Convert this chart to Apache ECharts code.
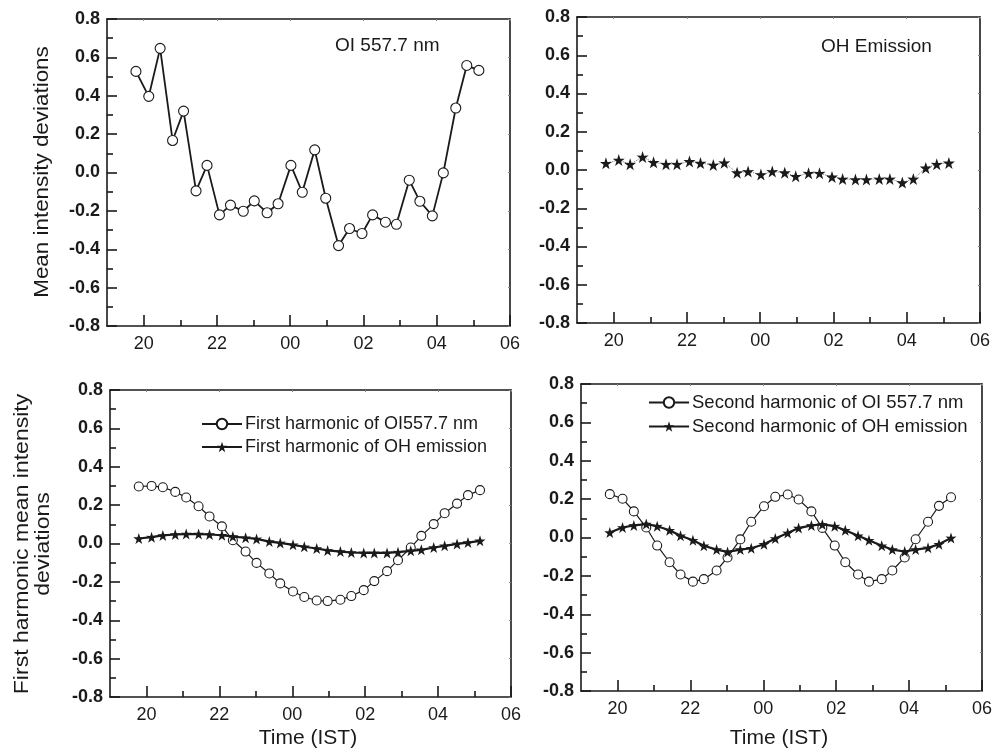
<!DOCTYPE html>
<html>
<head>
<meta charset="utf-8">
<script src="https://cdn.jsdelivr.net/npm/echarts@6/dist/echarts.min.js"></script>
<style>
html,body{margin:0;padding:0;background:#fff;}
#chart{width:995px;height:752px;}
</style>
</head>
<body>
<div id="chart"></div>
<script>
// Observation times (hours; values >= 24 are after midnight)
const times = [19.79,20.14,20.45,20.79,21.09,21.43,21.73,22.07,22.37,22.72,23.02,23.37,23.67,24.02,24.33,24.67,24.97,25.32,25.62,25.96,26.25,26.60,26.90,27.25,27.54,27.88,28.18,28.52,28.82,29.15];

const oiMean = [0.527,0.397,0.647,0.167,0.320,-0.096,0.037,-0.221,-0.170,-0.202,-0.148,-0.210,-0.163,0.037,-0.103,0.118,-0.134,-0.381,-0.292,-0.318,-0.221,-0.259,-0.270,-0.040,-0.150,-0.226,-0.002,0.336,0.558,0.532];
const ohMean = [0.035,0.052,0.030,0.068,0.040,0.030,0.030,0.045,0.036,0.026,0.038,-0.014,-0.008,-0.024,-0.008,-0.014,-0.033,-0.017,-0.017,-0.036,-0.047,-0.050,-0.050,-0.047,-0.047,-0.066,-0.047,0.011,0.030,0.037];

const oiFirst = [0.297,0.300,0.293,0.269,0.240,0.194,0.141,0.089,0.017,-0.042,-0.101,-0.156,-0.208,-0.250,-0.279,-0.297,-0.300,-0.293,-0.274,-0.243,-0.196,-0.144,-0.087,-0.021,0.040,0.101,0.158,0.208,0.252,0.278];
const ohFirst = [0.026,0.033,0.042,0.047,0.049,0.049,0.047,0.043,0.036,0.030,0.024,0.010,0.003,-0.007,-0.017,-0.026,-0.036,-0.042,-0.047,-0.049,-0.049,-0.049,-0.045,-0.038,-0.033,-0.021,-0.012,-0.002,0.005,0.014];

const oiSecond = [0.226,0.202,0.136,0.052,-0.042,-0.129,-0.193,-0.230,-0.217,-0.172,-0.104,-0.010,0.082,0.163,0.212,0.224,0.198,0.136,0.050,-0.042,-0.129,-0.193,-0.230,-0.217,-0.172,-0.104,-0.009,0.082,0.165,0.210];
const ohSecond = [0.026,0.052,0.063,0.070,0.059,0.038,0.009,-0.014,-0.043,-0.063,-0.075,-0.063,-0.056,-0.035,-0.005,0.024,0.049,0.063,0.068,0.059,0.038,0.009,-0.014,-0.043,-0.063,-0.073,-0.063,-0.054,-0.035,-0.002];

// Axis ticks
const xMajorTicks = [20,22,24,26,28,30];
const xMajorLabels = ['20','22','00','02','04','06'];
const xMinorTicks = [21,23,25,27,29];
const xRange = [19,30];
const yRange = [-0.8,0.8];
const yStep = 0.2;

const FONT = '"Liberation Sans", Arial, Helvetica, sans-serif';
const STAR = 'path://M50,0 L61.8,35.1 L97.6,34.5 L68.4,56.7 L79.4,90.5 L50,70 L20.6,90.5 L31.6,56.7 L2.4,34.5 L38.2,35.1 Z';
const INK = '#1a1a1a';

const grids = [
  {left:107, top:19, width:403, height:307},
  {left:577, top:17, width:403, height:306},
  {left:110, top:390, width:401, height:307},
  {left:581, top:384, width:401, height:307}
];

const xAxes = [], yAxes = [];
grids.forEach((g, i) => {
  xAxes.push({
    gridIndex:i, type:'value', min:xRange[0], max:xRange[1], position:'bottom',
    axisLine:{show:true, onZero:false, lineStyle:{color:INK, width:1.6}},
    axisTick:{show:true, inside:true, length:11, customValues:xMajorTicks, lineStyle:{color:INK, width:1.6}},
    axisLabel:{show:true, customValues:xMajorTicks, margin:9, fontFamily:FONT, fontSize:18, color:INK,
      formatter:(v)=>{ const k = xMajorTicks.indexOf(Math.round(v)); return k>=0 ? xMajorLabels[k] : ''; }},
    splitLine:{show:false}
  });
  xAxes.push({
    gridIndex:i, type:'value', min:xRange[0], max:xRange[1], position:'bottom',
    axisLine:{show:false, onZero:false},
    axisTick:{show:true, inside:true, length:6, customValues:xMinorTicks, lineStyle:{color:INK, width:1.6}},
    axisLabel:{show:false}, splitLine:{show:false}
  });
  xAxes.push({
    gridIndex:i, type:'value', min:xRange[0], max:xRange[1], position:'top',
    axisLine:{show:true, onZero:false, lineStyle:{color:INK, width:1.6}},
    axisTick:{show:true, inside:true, length:2, customValues:xMajorTicks, lineStyle:{color:'#888', width:1}},
    axisLabel:{show:false}, splitLine:{show:false}
  });
  yAxes.push({
    gridIndex:i, type:'value', min:yRange[0], max:yRange[1], interval:yStep, position:'left',
    axisLine:{show:true, onZero:false, lineStyle:{color:INK, width:1.6}},
    axisTick:{show:true, inside:true, length:10, lineStyle:{color:INK, width:1.6}},
    minorTick:{show:true, splitNumber:2, length:6, lineStyle:{color:INK, width:1.6}},
    axisLabel:{show:true, margin:7, fontFamily:FONT, fontWeight:'bold', fontSize:18, color:INK,
      formatter:(v)=>v.toFixed(1)},
    splitLine:{show:false}
  });
  yAxes.push({
    gridIndex:i, type:'value', min:yRange[0], max:yRange[1], interval:yStep, position:'right',
    axisLine:{show:true, onZero:false, lineStyle:{color:INK, width:1.6}},
    axisTick:{show:true, inside:true, length:2, lineStyle:{color:'#888', width:1}},
    axisLabel:{show:false}, splitLine:{show:false}
  });
});

function pairs(vals){ return vals.map((v,k)=>[times[k], v]); }

function circleSeries(name, vals, gi, size, lw){
  return {
    name:name, type:'line', xAxisIndex:gi*3, yAxisIndex:gi*2, data:pairs(vals),
    symbol:'circle', symbolSize:size, showSymbol:true, animation:false, z:3,
    itemStyle:{color:'#fff', borderColor:INK, borderWidth:1.1},
    lineStyle:{color:INK, width:lw}
  };
}
function starSeries(name, vals, gi, size, lw, ltype, lcolor){
  return {
    name:name, type:'line', xAxisIndex:gi*3, yAxisIndex:gi*2, data:pairs(vals),
    symbol:STAR, symbolSize:size, showSymbol:true, animation:false, z:4,
    itemStyle:{color:INK, borderWidth:0},
    lineStyle:{color:lcolor||INK, width:lw, type:ltype||'solid'}
  };
}

const series = [
  circleSeries('OI 557.7 nm', oiMean, 0, 10, 1.8),
  starSeries('OH Emission', ohMean, 1, 12, 1, 'dotted', '#777'),
  circleSeries('First harmonic of OI557.7 nm', oiFirst, 2, 9, 1.2),
  starSeries('First harmonic of OH emission', ohFirst, 2, 11, 2.2),
  circleSeries('Second harmonic of OI 557.7 nm', oiSecond, 3, 9, 1.2),
  starSeries('Second harmonic of OH emission', ohSecond, 3, 11, 2.2)
];

const legendCommon = {
  orient:'vertical', itemWidth:40, itemHeight:13, itemGap:5,
  textStyle:{fontFamily:FONT, fontSize:18, color:INK, padding:[0,0,0,-2]},
  selectedMode:false, inactiveColor:INK
};

const titleStyle = {font:'20px '+FONT, fill:INK, align:'center', verticalAlign:'middle'};

const option = {
  backgroundColor:'#fff',
  animation:false,
  grid:grids.map(g=>Object.assign({containLabel:false}, g)),
  xAxis:xAxes,
  yAxis:yAxes,
  legend:[
    Object.assign({}, legendCommon, {left:196, top:410, data:['First harmonic of OI557.7 nm','First harmonic of OH emission']}),
    Object.assign({}, legendCommon, {left:643, top:388, textStyle:Object.assign({}, legendCommon.textStyle, {fontSize:18.5}), data:['Second harmonic of OI 557.7 nm','Second harmonic of OH emission']})
  ],
  series:series,
  graphic:[
    {type:'text', left:335, top:36, style:{text:'OI 557.7 nm', font:'19px '+FONT, fill:INK}},
    {type:'text', left:821, top:37, style:{text:'OH Emission', font:'19px '+FONT, fill:INK}},
    {type:'text', x:42, y:172, rotation:Math.PI/2, scaleX:1.12, style:Object.assign({text:'Mean intensity deviations'}, titleStyle)},
    {type:'text', x:22, y:544, rotation:Math.PI/2, scaleX:1.15, style:Object.assign({text:'First harmonic mean intensity'}, titleStyle)},
    {type:'text', x:43, y:544, rotation:Math.PI/2, scaleX:1.15, style:Object.assign({text:'deviations'}, titleStyle)},
    {type:'text', x:308, y:738, style:{text:'Time (IST)', font:'21px '+FONT, fill:INK, align:'center', verticalAlign:'middle'}},
    {type:'text', x:779, y:738, style:{text:'Time (IST)', font:'21px '+FONT, fill:INK, align:'center', verticalAlign:'middle'}}
  ]
};

const chart = echarts.init(document.getElementById('chart'), null, {renderer:'canvas'});
chart.setOption(option);
</script>
</body>
</html>
